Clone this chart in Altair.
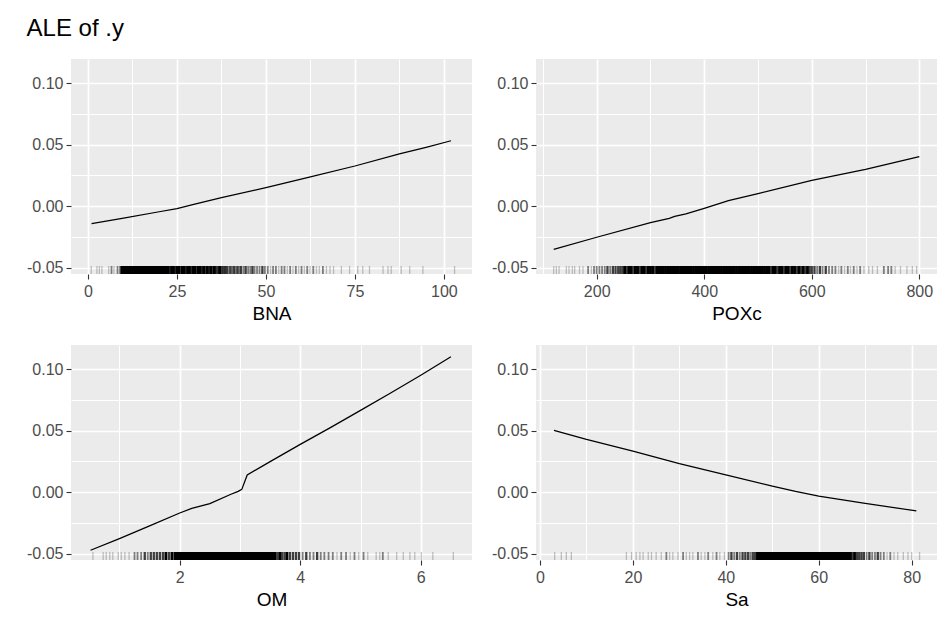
import json
import altair as alt
import pandas as pd

# ---------------- ALE curves ----------------
bna_x = [1, 10, 20, 25, 30, 37.5, 50, 62.5, 75, 87.5, 95, 102]
bna_y = [-0.0141, -0.0095, -0.0044, -0.0019, 0.0017, 0.0070, 0.0151, 0.0238, 0.0327, 0.0425, 0.0478, 0.0532]

pox_x = [120, 200, 300, 335, 345, 366, 400, 445, 500, 600, 700, 800]
pox_y = [-0.0349, -0.0251, -0.0132, -0.0097, -0.0082, -0.0061, -0.0016, 0.0046, 0.0103, 0.0211, 0.0300, 0.0403]

om_x = [0.52, 1.0, 1.5, 2.0, 2.2, 2.5, 2.85, 2.97, 3.03, 3.12, 3.5, 4.0, 4.5, 5.0, 5.5, 6.0, 6.5]
om_y = [-0.0470, -0.0376, -0.0272, -0.0168, -0.0130, -0.0092, -0.0016, 0.0008, 0.0024, 0.0141, 0.0249,
        0.0389, 0.0525, 0.0665, 0.0805, 0.0950, 0.1100]

sa_x = [3, 10, 20, 30, 40, 50, 55, 60, 70, 81]
sa_y = [0.0503, 0.0430, 0.0335, 0.0232, 0.0141, 0.0051, 0.0008, -0.0030, -0.0089, -0.0151]

# ---------------- rug: observed values and how many fall on each ----------------
bna_rug_x = [0.9, 2.5, 3.2, 3.9, 5.8, 6.6, 7.3, 8.3, 9.0,
             9.5, 10.0, 10.5, 11.0, 11.5, 12.0, 12.5, 13.0, 13.5, 14.0,
             14.5, 15.0, 15.5, 16.0, 16.5, 17.0, 17.5, 18.0, 18.5, 19.0,
             19.5, 20.0, 20.5, 21.0, 21.5, 22.0,
             22.5, 23.0, 23.5, 24.0, 24.5, 25.0, 25.5, 26.0, 26.5, 27.0,
             27.5, 28.0, 28.5, 29.0, 29.5, 30.0, 30.5, 31.0, 31.5, 32.0,
             32.5, 33.0, 33.5, 34.0, 34.5, 35.0, 35.5, 36.0, 36.5, 37.0,
             37.5, 38.0,
             38.5, 39.0, 39.5, 40.0, 40.5, 41.0, 41.5, 42.0, 42.5, 43.0,
             43.7, 44.3, 45.0, 45.6, 46.2, 46.8, 47.5, 48.2, 49.0, 49.7,
             50.5, 51.3, 52.0, 52.8, 53.6, 54.4, 55.2, 56.0, 56.8, 57.6,
             58.4, 59.2, 60.0, 60.8, 61.6, 62.4, 63.3, 64.2, 65.0, 66.0,
             67.0, 68.0, 69.0,
             71.2, 73.5, 75.8, 77.2, 79.1, 82.9, 84.3, 85.2, 88.0, 90.4, 94.1, 103.0]
bna_rug_n = [1, 1, 1, 1, 1, 2, 1, 2, 2,
             4, 4, 4, 4, 4, 4, 4, 4, 4, 4,
             4, 4, 4, 4, 4, 4, 4, 4, 4, 4,
             4, 4, 4, 4, 4, 4,
             4, 3, 4, 4, 3, 4, 4, 3, 4, 4,
             3, 4, 4, 3, 4, 4, 3, 4, 4, 3,
             4, 3, 4, 3, 4, 3, 4, 3, 3, 4,
             3, 3,
             3, 3, 2, 3, 2, 3, 2, 3, 2, 3,
             2, 3, 2, 2, 3, 2, 2, 2, 3, 2,
             2, 1, 2, 2, 1, 2, 2, 1, 2, 1,
             2, 1, 2, 1, 2, 1, 2, 1, 1, 2,
             1, 1, 1,
             1, 1, 1, 1, 1, 1, 1, 1, 1, 1, 1, 1]

pox_rug_x = [120, 125, 130, 143.5, 148.5, 154.7, 159, 168, 174.5,
             184, 190, 195, 200, 205, 210, 215, 220, 225, 230, 235, 240, 244,
             248, 252, 256, 260, 264, 268, 272, 276, 280, 284,
             288, 292, 296, 300, 304, 308, 312, 316, 320, 324,
             328, 332, 336, 340, 344, 348, 352, 356, 360, 364,
             368, 372, 376, 380, 384, 388, 392, 396, 400, 404,
             408, 412, 416, 420, 424, 428, 432, 436, 440, 444,
             448, 452, 456, 460, 464, 468, 472, 476, 480, 484,
             488, 492, 496, 500, 504, 508, 512, 516, 520, 524,
             528, 532, 536, 540, 544, 548, 552, 556, 560, 564,
             568, 572, 576, 580, 584, 588, 592, 596, 600,
             605, 610, 615, 620, 626, 632, 638,
             644, 650, 655, 661, 667, 672, 678, 684, 690, 697,
             706, 713, 722, 734, 742, 748, 755, 765, 777, 787, 795]
pox_rug_n = [1, 1, 1, 1, 1, 1, 1, 1, 1,
             2, 1, 2, 2, 2, 2, 2, 3, 2, 3, 3, 3, 3,
             3, 4, 3, 4, 4, 3, 4, 4, 3, 4,
             4, 3, 4, 4, 4, 3, 4, 4, 4, 4,
             4, 4, 4, 4, 4, 4, 4, 4, 4, 4,
             4, 4, 4, 4, 4, 4, 4, 4, 4, 4,
             4, 4, 4, 4, 4, 4, 4, 4, 4, 4,
             4, 4, 4, 4, 4, 4, 4, 4, 4, 4,
             4, 4, 4, 4, 4, 4, 4, 4, 4, 3,
             4, 4, 3, 4, 4, 3, 4, 4, 3, 4,
             4, 3, 4, 3, 4, 3, 4, 3, 3,
             3, 2, 3, 2, 3, 2, 2,
             2, 1, 2, 1, 2, 1, 2, 1, 2, 1,
             1, 1, 1, 2, 2, 2, 1, 1, 1, 1, 1]

om_rug_x = [0.56, 0.73, 0.78, 0.84, 0.89, 0.98, 1.03, 1.09, 1.16,
            1.25, 1.30, 1.36, 1.42, 1.47, 1.52, 1.57, 1.62, 1.67, 1.72, 1.77, 1.82, 1.87, 1.92,
            1.96, 1.99, 2.02, 2.05, 2.08, 2.11, 2.14, 2.17, 2.20, 2.23,
            2.26, 2.29, 2.32, 2.35, 2.38, 2.41, 2.44, 2.47, 2.50, 2.53,
            2.56, 2.59, 2.62, 2.65, 2.68, 2.71, 2.74, 2.77, 2.80, 2.83,
            2.86, 2.89, 2.92, 2.95, 2.98, 3.01, 3.04, 3.07, 3.10, 3.13,
            3.16, 3.19, 3.22, 3.25, 3.28, 3.31, 3.34, 3.37, 3.40, 3.43,
            3.46, 3.49, 3.52, 3.55, 3.58,
            3.62, 3.66, 3.70, 3.74, 3.78, 3.83, 3.88, 3.93, 3.98,
            4.04, 4.10, 4.16, 4.22, 4.28, 4.34, 4.40, 4.47, 4.54, 4.61, 4.68,
            4.76, 4.83, 4.90, 4.97, 5.05, 5.12,
            5.26, 5.32, 5.37, 5.46, 5.60, 5.71, 5.82, 5.90, 6.01, 6.20, 6.54]
om_rug_n = [1, 1, 1, 1, 1, 1, 1, 1, 1,
            2, 2, 2, 3, 2, 3, 3, 3, 3, 3, 4, 3, 4, 4,
            4, 4, 4, 4, 4, 4, 4, 4, 4, 4,
            4, 4, 4, 4, 4, 4, 4, 4, 4, 4,
            4, 4, 4, 4, 4, 4, 4, 4, 4, 4,
            4, 4, 4, 4, 4, 4, 4, 4, 4, 4,
            4, 4, 4, 4, 4, 4, 4, 4, 4, 4,
            4, 4, 4, 4, 4,
            3, 4, 3, 3, 4, 3, 3, 3, 3,
            2, 3, 2, 2, 3, 2, 2, 2, 2, 1, 2,
            2, 1, 2, 1, 2, 1,
            1, 1, 2, 1, 1, 1, 1, 1, 1, 1, 1]

sa_rug_x = [3.16, 4.59, 5.67, 6.75,
            18.6, 19.7, 20.7, 21.5, 22.2, 23.3, 24.0, 25.0, 26.1, 27.2,
            27.9, 28.6, 29.7, 30.8, 31.5, 32.2, 32.9, 34.0, 34.7, 35.5,
            36.2, 37.2, 38.0, 38.7, 39.7,
            40.6, 41.2, 41.8, 42.4, 43.0, 43.6, 44.2, 44.8, 45.3, 45.8, 46.3, 46.8,
            47.2, 47.6, 48.0, 48.4, 48.8, 49.2, 49.6, 50.0, 50.4, 50.8,
            51.2, 51.6, 52.0, 52.4, 52.8, 53.2, 53.6, 54.0, 54.4, 54.8,
            55.2, 55.6, 56.0, 56.4, 56.8, 57.2, 57.6, 58.0, 58.4, 58.8,
            59.2, 59.6, 60.0, 60.4, 60.8, 61.2, 61.6, 62.0, 62.4, 62.8,
            63.2, 63.6, 64.0, 64.4, 64.8, 65.2, 65.6, 66.0, 66.4, 66.8,
            67.2, 67.7, 68.2, 68.7, 69.2, 69.7, 70.3, 70.9, 71.5, 72.1,
            72.7, 73.3, 74.0, 74.7, 75.4, 76.2, 77.0, 78.2, 79.2, 80.0, 81.7]
sa_rug_n = [1, 1, 1, 1,
            1, 1, 1, 1, 1, 1, 1, 1, 1, 2,
            1, 1, 1, 2, 1, 1, 1, 2, 1, 1,
            2, 1, 2, 1, 1,
            2, 3, 2, 3, 2, 3, 3, 3, 2, 3, 3, 4,
            4, 4, 4, 4, 4, 4, 4, 4, 4, 4,
            4, 4, 4, 4, 4, 4, 4, 4, 4, 4,
            4, 4, 4, 4, 4, 4, 4, 4, 4, 4,
            4, 4, 4, 4, 4, 4, 4, 4, 4, 4,
            4, 4, 4, 4, 4, 4, 4, 4, 4, 4,
            3, 4, 3, 3, 3, 3, 2, 3, 2, 2,
            3, 2, 2, 1, 2, 1, 1, 1, 1, 1, 1]

# ---------------- styling ----------------
FONT = "Liberation Sans"
W, H = 401, 215
RUG_LEN = 8
Y_DOMAIN = [-0.0549, 0.1195]
Y_ALL = [-0.05, -0.025, 0, 0.025, 0.05, 0.075, 0.1]
Y_MAJOR = [-0.05, 0, 0.05, 0.1]


def is_major(major):
    return "indexof(%s, datum.value) >= 0" % json.dumps(major)


def cond(major, a, b):
    return {"condition": {"test": is_major(major), "value": a}, "value": b}


def common_axis(values, major, label_expr, title=None):
    kw = dict(
        values=values, domain=False, grid=True, gridColor="white",
        gridWidth=cond(major, 1.7, 1.0), gridOpacity=1,
        ticks=True, tickColor="#333333", tickWidth=1.1, tickSize=5,
        tickOpacity=cond(major, 1, 0),
        labelExpr=label_expr, labelFont=FONT, labelFontSize=16,
        labelColor="#4D4D4D", labelFlush=False, labelOverlap=False,
    )
    if title is not None:
        kw.update(title=title, titleFont=FONT, titleFontSize=19, titleColor="black",
                  titleFontWeight="normal", titlePadding=5, labelPadding=4)
    else:
        kw.update(title=None, labelPadding=3)
    return alt.Axis(**kw)


def panel(name, lx, ly, rx, rn, xdom, xall, xmajor):
    line_df = pd.DataFrame({"x": lx, "y": ly})
    rug_df = pd.DataFrame({"x": rx, "n": rn})
    x_expr = "%s ? format(datum.value, 'd') : ''" % is_major(xmajor)
    y_expr = "%s ? replace(format(datum.value, '.2f'), '\u2212', '-') : ''" % is_major(Y_MAJOR)
    xs = alt.Scale(domain=xdom, nice=False, zero=False)
    ys = alt.Scale(domain=Y_DOMAIN, nice=False, zero=False)
    xax = common_axis(xall, xmajor, x_expr, title=name)
    yax = common_axis(Y_ALL, Y_MAJOR, y_expr)
    line = alt.Chart(line_df).mark_line(color="black", strokeWidth=1.25, clip=True).encode(
        x=alt.X("x:Q", scale=xs, axis=xax),
        y=alt.Y("y:Q", scale=ys, axis=yax),
    )
    rug = alt.Chart(rug_df).mark_rule(color="black").encode(
        x=alt.X("x:Q", scale=xs),
        y=alt.value(H),
        y2=alt.value(H - RUG_LEN),
        opacity=alt.Opacity("n:Q", scale=alt.Scale(domain=[1, 4], range=[0.22, 1.0], clamp=True), legend=None),
        strokeWidth=alt.StrokeWidth("n:Q", scale=alt.Scale(domain=[1, 4], range=[1.3, 2.8], clamp=True), legend=None),
    )
    return alt.layer(rug, line).properties(width=W, height=H)


p1 = panel("BNA", bna_x, bna_y, bna_rug_x, bna_rug_n, [-4.78, 107.9],
           [0, 12.5, 25, 37.5, 50, 62.5, 75, 87.5, 100], [0, 25, 50, 75, 100])
p2 = panel("POXc", pox_x, pox_y, pox_rug_x, pox_rug_n, [87.1, 832.9],
           [100, 200, 300, 400, 500, 600, 700, 800], [200, 400, 600, 800])
p3 = panel("OM", om_x, om_y, om_rug_x, om_rug_n, [0.196, 6.85],
           [1, 2, 3, 4, 5, 6], [2, 4, 6])
p4 = panel("Sa", sa_x, sa_y, sa_rug_x, sa_rug_n, [-0.86, 85.45],
           [0, 10, 20, 30, 40, 50, 60, 70, 80], [0, 20, 40, 60, 80])

top = alt.hconcat(p1, p2, spacing=19)
bottom = alt.hconcat(p3, p4, spacing=19)

chart = alt.vconcat(top, bottom, spacing=22).properties(
    title=alt.TitleParams("ALE of .y", anchor="start", font=FONT, fontSize=24,
                          fontWeight="normal", color="black", offset=18),
    padding={"left": 18, "top": 9, "right": 5, "bottom": 5},
    background="white",
).configure_view(fill="#EBEBEB", stroke=None)

chart.save("out.html", embed_options={"renderer": "svg", "actions": False})
